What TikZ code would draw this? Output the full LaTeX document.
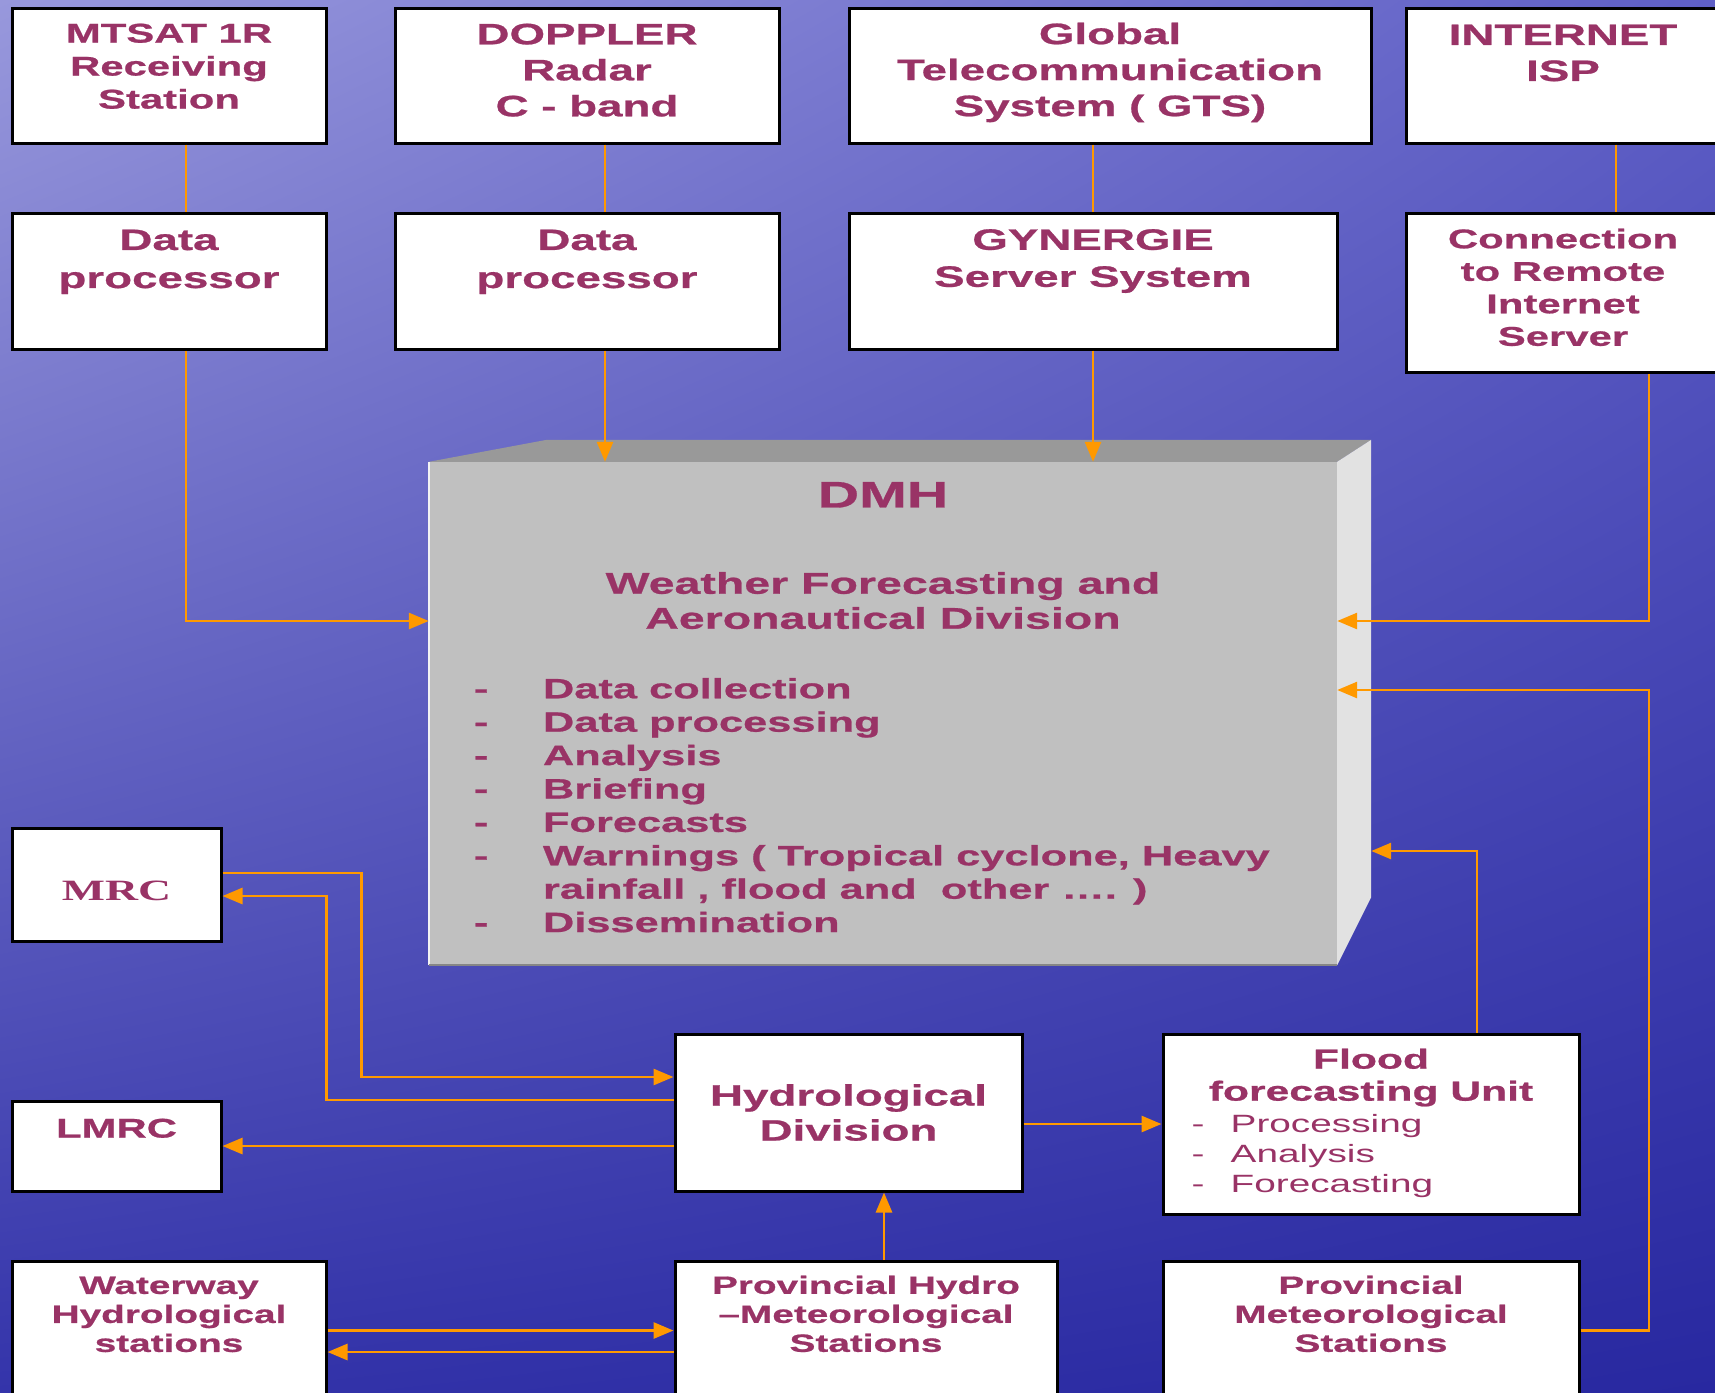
\documentclass[tikz,border=0pt]{standalone}
\usepackage{fontspec}
\setmainfont{Liberation Sans}[FakeStretch=1.55, BoldFeatures={FakeBold=0.8}]
\newfontfamily\mrcfont{Liberation Serif}[FakeStretch=1.55]
\usepackage{tikz}
\usetikzlibrary{arrows.meta, shadings}
\definecolor{plum}{RGB}{153,51,102}
\definecolor{amber}{RGB}{255,153,0}
\definecolor{skyA}{RGB}{152,152,220}
\definecolor{skyB}{RGB}{95,95,198}
\definecolor{skyC}{RGB}{52,52,170}
\definecolor{skyD}{RGB}{40,40,160}
\definecolor{faceFront}{RGB}{192,192,192}
\definecolor{faceTop}{RGB}{153,153,153}
\definecolor{faceSide}{RGB}{226,226,226}
\tikzstyle{unit}    = [rectangle, draw=black, line width=3pt, fill=white, inner sep=0pt, text=plum]
\tikzstyle{block}   = [rectangle, fill=faceFront, inner sep=0pt, minimum width=908pt, minimum height=503pt]
\tikzstyle{caption} = [inner sep=0pt, text=plum, align=center, font=\bfseries\fontsize{29.5}{36}\selectfont]
\tikzstyle{link}    = [draw=amber, line width=2pt]
\tikzstyle{flow}    = [draw=amber, line width=2.8pt, -{Triangle[length=20pt,width=16pt]}]

\begin{document}
\begin{tikzpicture}[x=1pt, y=-1pt, node distance=205.5pt]
    \useasboundingbox (0,0) rectangle (1715,1392);
    \shade[upper left=skyA, upper right=skyB, lower left=skyC, lower right=skyD] (0,0) rectangle (1715,1392);

    % sources
    \node (mtsat) [unit, minimum width=314pt, minimum height=135pt,
      label={[caption, anchor=north, yshift=-17pt, font=\bfseries\fontsize{27}{33}\selectfont]north:{MTSAT 1R\\Receiving\\Station}}] at (169,75.5) {};
    \node (doppler) [unit, minimum width=384pt, minimum height=135pt,
      label={[caption, anchor=north, yshift=-17pt]north:{DOPPLER\\Radar\\C - band}}] at (587,75.5) {};
    \node (gts) [unit, minimum width=522pt, minimum height=135pt,
      label={[caption, anchor=north, yshift=-16pt]north:{Global\\Telecommunication\\System ( GTS)}}] at (1110,75.5) {};
    \node (isp) [unit, minimum width=314pt, minimum height=135pt,
      label={[caption, anchor=north, yshift=-18pt]north:{INTERNET\\ISP}}] at (1563,75.5) {};

    \node (dp1) [unit, below of=mtsat, minimum width=314pt, minimum height=136pt,
      label={[caption, anchor=north, yshift=-18pt, font=\bfseries\fontsize{29.5}{38}\selectfont]north:{Data\\processor}}] {};
    \node (dp2) [unit, below of=doppler, minimum width=384pt, minimum height=136pt,
      label={[caption, anchor=north, yshift=-18pt, font=\bfseries\fontsize{29.5}{38}\selectfont]north:{Data\\processor}}] {};
    \node (gyn) [unit, minimum width=488pt, minimum height=136pt,
      label={[caption, anchor=north, yshift=-17.5pt, font=\bfseries\fontsize{29.5}{37}\selectfont]north:{GYNERGIE\\Server System}}] at (1093,281) {};
    \node (conn) [unit, minimum width=314pt, minimum height=159pt,
      label={[caption, anchor=north, yshift=-17pt, font=\bfseries\fontsize{27}{32.5}\selectfont]north:{Connection\\to Remote\\Internet\\Server}}] at (1563,292.5) {};

    % DMH block
    \node (dmh) [block,
      label={[caption, anchor=north, yshift=-20pt, font=\bfseries\fontsize{37}{44}\selectfont]north:DMH},
      label={[caption, anchor=north, yshift=-110pt, font=\bfseries\fontsize{30}{35}\selectfont]north:{Weather Forecasting and\\Aeronautical Division}},
      label={[caption, align=left, anchor=north west, xshift=45pt, yshift=-216pt, font=\bfseries\fontsize{28}{33.4}\selectfont]north west:{%
        \makebox[69pt][l]{-}Data collection\\
        \makebox[69pt][l]{-}Data processing\\
        \makebox[69pt][l]{-}Analysis\\
        \makebox[69pt][l]{-}Briefing\\
        \makebox[69pt][l]{-}Forecasts\\
        \makebox[69pt][l]{-}Warnings ( Tropical cyclone, Heavy\\
        \hspace*{69pt}rainfall , flood and\ \ other …. )\\
        \makebox[69pt][l]{-}Dissemination}}] at (883,713.5) {};
    \fill[faceTop] (dmh.north west) -- ++(118pt,22pt) -- ([xshift=34pt,yshift=22pt]dmh.north east) -- (dmh.north east) -- cycle;
    \fill[faceSide] (dmh.north east) -- ++(34pt,22pt) -- ([xshift=34pt,yshift=68pt]dmh.south east) -- (dmh.south east) -- cycle;
    \draw[white!80!faceFront, line width=2pt] (dmh.south west) -- (dmh.north west);
    \draw[black!30!faceFront, line width=2pt] (dmh.south west) -- (dmh.south east);

    % divisions and stations
    \node (mrc) [unit, minimum width=209pt, minimum height=113pt,
      label={[text=plum, inner sep=0pt, yshift=-6pt, font=\mrcfont\bfseries\fontsize{29.5}{34}\selectfont]center:MRC}] at (116.5,884.5) {};
    \node (lmrc) [unit, minimum width=209pt, minimum height=90pt,
      label={[caption, anchor=north, yshift=-19pt, font=\bfseries\fontsize{27}{32}\selectfont]north:LMRC}] at (116.5,1146) {};
    \node (hydro) [unit, minimum width=347pt, minimum height=157pt, align=center,
      font=\bfseries\fontsize{29.5}{35}\selectfont] at (848.5,1112.5) {Hydrological\\Division};
    \node (flood) [unit, minimum width=416pt, minimum height=180pt,
      label={[caption, anchor=north, yshift=-16pt, font=\bfseries\fontsize{27.5}{32}\selectfont]north:{Flood\\forecasting Unit}},
      label={[caption, align=left, anchor=north west, xshift=30pt, yshift=-82pt, font=\mdseries\fontsize{25}{30}\selectfont]north west:{%
        \makebox[39pt][l]{-}Processing\\
        \makebox[39pt][l]{-}Analysis\\
        \makebox[39pt][l]{-}Forecasting}}] at (1371,1124) {};
    \node (waterway) [unit, minimum width=314pt, minimum height=139pt,
      label={[caption, anchor=north, yshift=-17pt, font=\bfseries\fontsize{25}{29}\selectfont]north:{Waterway\\Hydrological\\stations}}] at (169,1330.5) {};
    \node (provhyd) [unit, minimum width=382pt, minimum height=139pt,
      label={[caption, anchor=north, yshift=-16pt, font=\bfseries\fontsize{25}{29}\selectfont]north:{Provincial Hydro\\–Meteorological\\Stations}}] at (866,1330.5) {};
    \node (provmet) [unit, minimum width=416pt, minimum height=139pt,
      label={[caption, anchor=north, yshift=-16pt, font=\bfseries\fontsize{25}{29}\selectfont]north:{Provincial\\Meteorological\\Stations}}] at (1371,1330.5) {};

    % connectors
    \coordinate (rail) at ([xshift=86pt]conn.south);
    \coordinate (in1) at ([yshift=92.5pt]dmh.west);
    \coordinate (in2) at ([yshift=92.5pt]dmh.east);
    \coordinate (in3) at ([yshift=23.5pt]dmh.east);
    \coordinate (in4) at ([xshift=34pt,yshift=-137.5pt]dmh.east);

    \draw [link] ([xshift=17pt]mtsat.south) -- ([xshift=17pt]dp1.north);
    \draw [link] ([xshift=18pt]doppler.south) -- ([xshift=18pt]dp2.north);
    \draw [link] (gts.south -| gyn.north) -- (gyn.north);
    \draw [link] ([xshift=53pt]isp.south) -- ([xshift=53pt]conn.north);

    \draw [flow] ([xshift=17pt]dp1.south) |- (in1);
    \draw [flow] ([xshift=18pt]dp2.south) -- ([xshift=-278pt]dmh.north);
    \draw [flow] (gyn.south) -- (gyn.south |- dmh.north);
    \draw [flow] (rail) |- (in2);
    \draw [flow] (provmet.east) -| (rail |- in3) -- (in3);
    \draw [flow] ([xshift=106pt]flood.north) |- (in4);

    \draw [flow] ([yshift=11.5pt]mrc.east) -- ++(139pt,0pt) |- ([yshift=35.5pt]hydro.west);
    \draw [flow] ([yshift=12.5pt]hydro.west) -| ([xshift=104pt,yshift=-11.5pt]mrc.east) -- ([yshift=-11.5pt]mrc.east);
    \draw [flow] (hydro.west |- lmrc.east) -- (lmrc.east);
    \draw [flow] (hydro.east |- flood.west) -- (flood.west);
    \draw [flow] ([xshift=18pt]provhyd.north) -- ([xshift=35.5pt]hydro.south);
    \draw [flow] (waterway.east) -- (provhyd.west);
    \draw [flow] ([yshift=-21.5pt]provhyd.west) -- ([yshift=-21.5pt]waterway.east);
\end{tikzpicture}
\end{document}
